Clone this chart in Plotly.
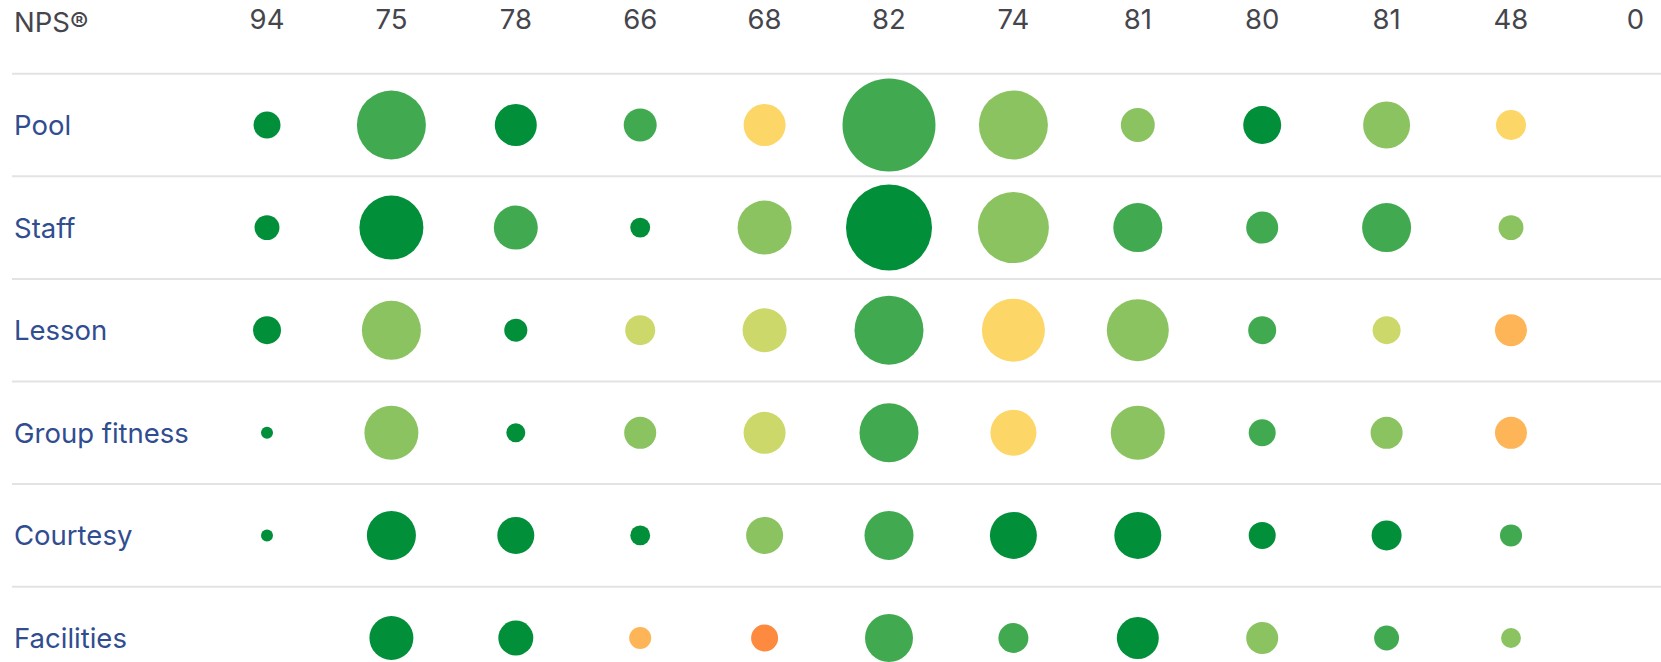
import plotly.graph_objects as go

# ---- data ----
nps_scores = ["94", "75", "78", "66", "68", "82", "74", "81", "80", "81", "48", "0"]
categories = ["Pool", "Staff", "Lesson", "Group fitness", "Courtesy", "Facilities"]

# response counts per cell (bubble area), None = no responses
responses = {
    "Pool":          [81, 529, 196, 121, 196, 961, 529, 128, 160, 245, 100, None],
    "Staff":         [69, 455, 215, 44, 324, 822, 560, 267, 114, 267, 69, None],
    "Lesson":        [87, 387, 59, 100, 215, 529, 441, 427, 87, 87, 114, None],
    "Group fitness": [16, 324, 40, 114, 196, 387, 235, 324, 81, 114, 114, None],
    "Courtesy":      [16, 267, 152, 44, 152, 267, 245, 245, 81, 100, 54, None],
    "Facilities":    [None, 215, 136, 54, 81, 256, 100, 196, 114, 69, 44, None],
}

# NPS band of each cell: 0 = highest ... 6 = lowest
bands = {
    "Pool":          [0, 1, 0, 1, 4, 1, 2, 2, 0, 2, 4, None],
    "Staff":         [0, 0, 1, 0, 2, 0, 2, 1, 1, 1, 2, None],
    "Lesson":        [0, 2, 0, 3, 3, 1, 4, 2, 1, 3, 5, None],
    "Group fitness": [0, 2, 0, 2, 3, 1, 4, 2, 1, 2, 5, None],
    "Courtesy":      [0, 0, 0, 0, 2, 1, 0, 0, 0, 0, 1, None],
    "Facilities":    [None, 0, 0, 5, 6, 1, 1, 0, 2, 1, 2, None],
}

band_colors = ["#018f39", "#41aa51", "#8bc361", "#cdd86b", "#fdd668", "#feb558", "#fd8a3f"]

# ---- figure ----
fig = go.Figure()

max_resp = max(v for row in responses.values() for v in row if v is not None)
max_diam = 93
sizeref = 2.0 * max_resp / (max_diam ** 2)

for j, cat in enumerate(categories):
    xs, ys, ss, cs = [], [], [], []
    for i, v in enumerate(responses[cat]):
        if v is None:
            continue
        xs.append(i)
        ys.append(j)
        ss.append(v)
        cs.append(band_colors[bands[cat][i]])
    fig.add_trace(go.Scatter(
        x=xs, y=ys, mode="markers",
        marker=dict(size=ss, sizemode="area", sizeref=sizeref, color=cs,
                    line=dict(width=0), opacity=1),
        hoverinfo="skip", showlegend=False, cliponaxis=False,
    ))

FONT = "Inter, Roboto, sans-serif"
FS = 27.5

# header NPS values
fig.add_trace(go.Scatter(
    x=list(range(len(nps_scores))), y=[-1] * len(nps_scores),
    mode="text", text=nps_scores, textposition="middle center",
    textfont=dict(family=FONT, size=FS, color="#45454c"),
    hoverinfo="skip", showlegend=False, cliponaxis=False,
))

W, H = 1661, 662
x0_px, dx_px = 267.0, 124.4
y0_px, dy_px = 125.0, 102.6
xr = [(0 - x0_px) / dx_px, (W - x0_px) / dx_px]
yr = [(H - y0_px) / dy_px, (0 - y0_px) / dy_px]

left_paper = 12 / W

annotations = [dict(
    x=left_paper, xref="paper", y=-1, yref="y", text="NPS®", showarrow=False,
    xanchor="left", yanchor="middle",
    font=dict(family=FONT, size=FS, color="#45454c"),
)]
for j, cat in enumerate(categories):
    annotations.append(dict(
        x=left_paper, xref="paper", y=j, yref="y", text=cat, showarrow=False,
        xanchor="left", yanchor="middle",
        font=dict(family=FONT, size=FS, color="#304d90"),
    ))

shapes = []
for k in range(len(categories)):
    yline = k - 0.5
    shapes.append(dict(type="line", xref="paper", yref="y",
                       x0=left_paper, x1=1, y0=yline, y1=yline,
                       line=dict(color="#e3e3e6", width=2), layer="below"))

fig.update_layout(
    width=W, height=H,
    margin=dict(l=0, r=0, t=0, b=0),
    paper_bgcolor="white", plot_bgcolor="white",
    xaxis=dict(range=xr, visible=False, fixedrange=True),
    yaxis=dict(range=yr, visible=False, fixedrange=True),
    annotations=annotations, shapes=shapes,
    hovermode=False,
)

fig.write_html(
    "out.html",
    config={"displayModeBar": False, "staticPlot": True},
    post_script="document.body.style.margin='0';document.body.style.overflow='hidden';",
)
